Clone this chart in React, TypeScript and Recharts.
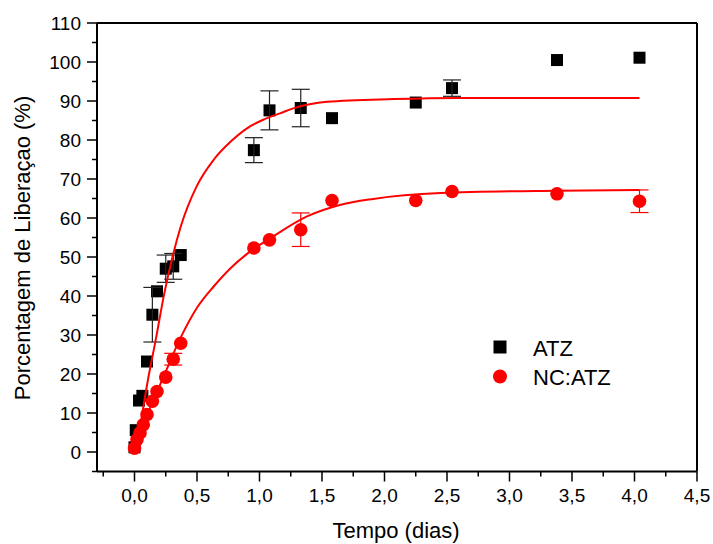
import React from 'react';
import { ComposedChart, Scatter, Line, XAxis, YAxis, ErrorBar, ReferenceLine } from 'recharts';

// ATZ (black squares)
const atzTime = [0.0, 0.01, 0.036, 0.063, 0.10, 0.143, 0.18, 0.25, 0.31, 0.37, 0.955, 1.08, 1.33, 1.58, 2.25, 2.54, 3.38, 4.04];
const atzRelease = [1.2, 5.6, 13.2, 14.4, 23.2, 35.2, 41.2, 47.0, 47.6, 50.5, 77.4, 87.6, 88.2, 85.6, 89.6, 93.3, 100.5, 101.1];
const atzError = [null, null, null, null, null, 7.0, null, 3.5, 3.3, null, 3.2, 5.0, 4.8, null, null, 2.1, null, null];

// NC:ATZ (red circles)
const ncTime = [0.0, 0.02, 0.044, 0.07, 0.10, 0.143, 0.18, 0.25, 0.31, 0.37, 0.955, 1.08, 1.33, 1.58, 2.25, 2.54, 3.38, 4.04];
const ncRelease = [1.0, 3.2, 4.9, 7.0, 9.6, 13.0, 15.5, 19.2, 23.8, 27.9, 52.3, 54.4, 57.0, 64.5, 64.5, 66.8, 66.2, 64.3];
const ncError = [null, null, null, null, null, null, null, null, 1.5, null, null, null, 4.3, null, null, null, null, 2.9];

// Fitted curves
const atzFitTime = [0.044, 0.063, 0.103, 0.17, 0.236, 0.30, 0.37, 0.50, 0.635, 0.77, 0.90, 1.03, 1.17, 1.27, 1.54, 2.07, 2.6, 3.3, 4.04];
const atzFitValue = [6.0, 10.0, 17.7, 28.8, 40.3, 49.5, 57.8, 68.3, 75.0, 79.6, 83.0, 85.2, 86.9, 88.1, 89.8, 90.5, 90.8, 90.8, 90.8];
const ncFitTime = [0.0, 0.13, 0.236, 0.37, 0.50, 0.635, 0.77, 0.90, 1.11, 1.38, 1.65, 1.91, 2.45, 3.38, 4.04];
const ncFitValue = [2.5, 11.7, 19.6, 29.4, 37.0, 42.5, 47.2, 50.8, 55.3, 60.4, 63.4, 64.9, 66.4, 67.0, 67.2];

const xTicks = [-0.25, 0, 0.25, 0.5, 0.75, 1, 1.25, 1.5, 1.75, 2, 2.25, 2.5, 2.75, 3, 3.25, 3.5, 3.75, 4, 4.25, 4.5];
const yTicks = [-5, 0, 5, 10, 15, 20, 25, 30, 35, 40, 45, 50, 55, 60, 65, 70, 75, 80, 85, 90, 95, 100, 105, 110];

const FONT = '"Liberation Sans", Arial, Helvetica, sans-serif';

const atzData = atzTime.map((x, i) => ({
  x,
  y: atzRelease[i],
  err: atzError[i] == null ? undefined : [atzError[i], atzError[i]],
}));
const ncData = ncTime.map((x, i) => ({
  x,
  y: ncRelease[i],
  err: ncError[i] == null ? undefined : [ncError[i], ncError[i]],
}));
const atzFit = atzFitTime.map((x, i) => ({ x, y: atzFitValue[i] }));
const ncFit = ncFitTime.map((x, i) => ({ x, y: ncFitValue[i] }));

const XTick = (props: any) => {
  const { x, y, payload } = props;
  const v = payload.value as number;
  const major = Math.abs(v * 2 - Math.round(v * 2)) < 1e-6;
  return (
    <g>
      <line x1={x} x2={x} y1={y} y2={y + (major ? 10 : 5)} stroke="#000" strokeWidth={1.5} />
      {major && (
        <text x={x} y={y + 30} textAnchor="middle" fontSize={19} fill="#000" fontFamily={FONT}>
          {v.toFixed(1).replace('.', ',')}
        </text>
      )}
    </g>
  );
};

const YTick = (props: any) => {
  const { x, y, payload } = props;
  const v = payload.value as number;
  const major = v % 10 === 0;
  return (
    <g>
      <line x1={x} x2={x - (major ? 10 : 5)} y1={y} y2={y} stroke="#000" strokeWidth={1.5} />
      {major && (
        <text x={x - 16} y={y + 7} textAnchor="end" fontSize={19} fill="#000" fontFamily={FONT}>
          {String(v)}
        </text>
      )}
    </g>
  );
};

const SquareShape = (props: any) => {
  const { cx, cy } = props;
  if (cx == null || cy == null) return null;
  return <rect x={cx - 6} y={cy - 6} width={12} height={12} fill="#000" />;
};

const CircleShape = (props: any) => {
  const { cx, cy } = props;
  if (cx == null || cy == null) return null;
  return <circle cx={cx} cy={cy} r={6.8} fill="#ff0000" />;
};

export default function App() {
  return (
    <div style={{ position: 'absolute', left: 0, top: 0, width: 713, height: 544, background: '#fff' }}>
      <ComposedChart width={713} height={544} margin={{ top: 23, right: 16, left: 0, bottom: 0 }}>
        <XAxis
          dataKey="x"
          type="number"
          domain={[-0.3, 4.5]}
          ticks={xTicks}
          interval={0}
          allowDataOverflow
          height={72.5}
          tickSize={0}
          tickMargin={0}
          tickLine={false}
          axisLine={{ stroke: '#000', strokeWidth: 2 }}
          tick={<XTick />}
          label={{
            content: () => (
              <text x={396} y={538} textAnchor="middle" fontSize={22} fontFamily={FONT} fill="#000">
                Tempo (dias)
              </text>
            ),
          }}
        />
        <YAxis
          dataKey="y"
          type="number"
          domain={[-5, 110]}
          ticks={yTicks}
          interval={0}
          allowDataOverflow
          width={97}
          tickSize={0}
          tickMargin={0}
          tickLine={false}
          axisLine={{ stroke: '#000', strokeWidth: 2 }}
          tick={<YTick />}
          label={{
            content: () => (
              <text
                transform="translate(30,248) rotate(-90)"
                textAnchor="middle"
                fontSize={22}
                fontFamily={FONT}
                fill="#000"
              >
                Porcentagem de Liberaçao (%)
              </text>
            ),
          }}
        />
        <ReferenceLine y={110} stroke="#000" strokeWidth={2} />
        <ReferenceLine x={4.5} stroke="#000" strokeWidth={2} />
        <Scatter name="ATZ" data={atzData} fill="#000" shape={SquareShape} isAnimationActive={false} zIndex={300}>
          <ErrorBar dataKey="err" direction="y" width={9} stroke="#222" strokeWidth={1.2} />
        </Scatter>
        <Line data={atzFit} dataKey="y" type="monotone" stroke="#ff0000" strokeWidth={2} dot={false} activeDot={false} isAnimationActive={false} />
        <Line data={ncFit} dataKey="y" type="monotone" stroke="#ff0000" strokeWidth={2} dot={false} activeDot={false} isAnimationActive={false} />
        <Scatter name="NC:ATZ" data={ncData} fill="#ff0000" shape={CircleShape} isAnimationActive={false}>
          <ErrorBar dataKey="err" direction="y" width={9} stroke="#ff0000" strokeWidth={1.2} />
        </Scatter>
      </ComposedChart>
      <svg
        width={170}
        height={64}
        style={{ position: 'absolute', left: 490, top: 330, display: 'block' }}
      >
        <rect x={3.5} y={10.5} width={13} height={13} fill="#000" />
        <text x={43} y={26} fontSize={22} fontFamily={FONT} fill="#000">ATZ</text>
        <circle cx={10} cy={46.5} r={7} fill="#ff0000" />
        <text x={43} y={55} fontSize={22} fontFamily={FONT} fill="#000">NC:ATZ</text>
      </svg>
    </div>
  );
}
